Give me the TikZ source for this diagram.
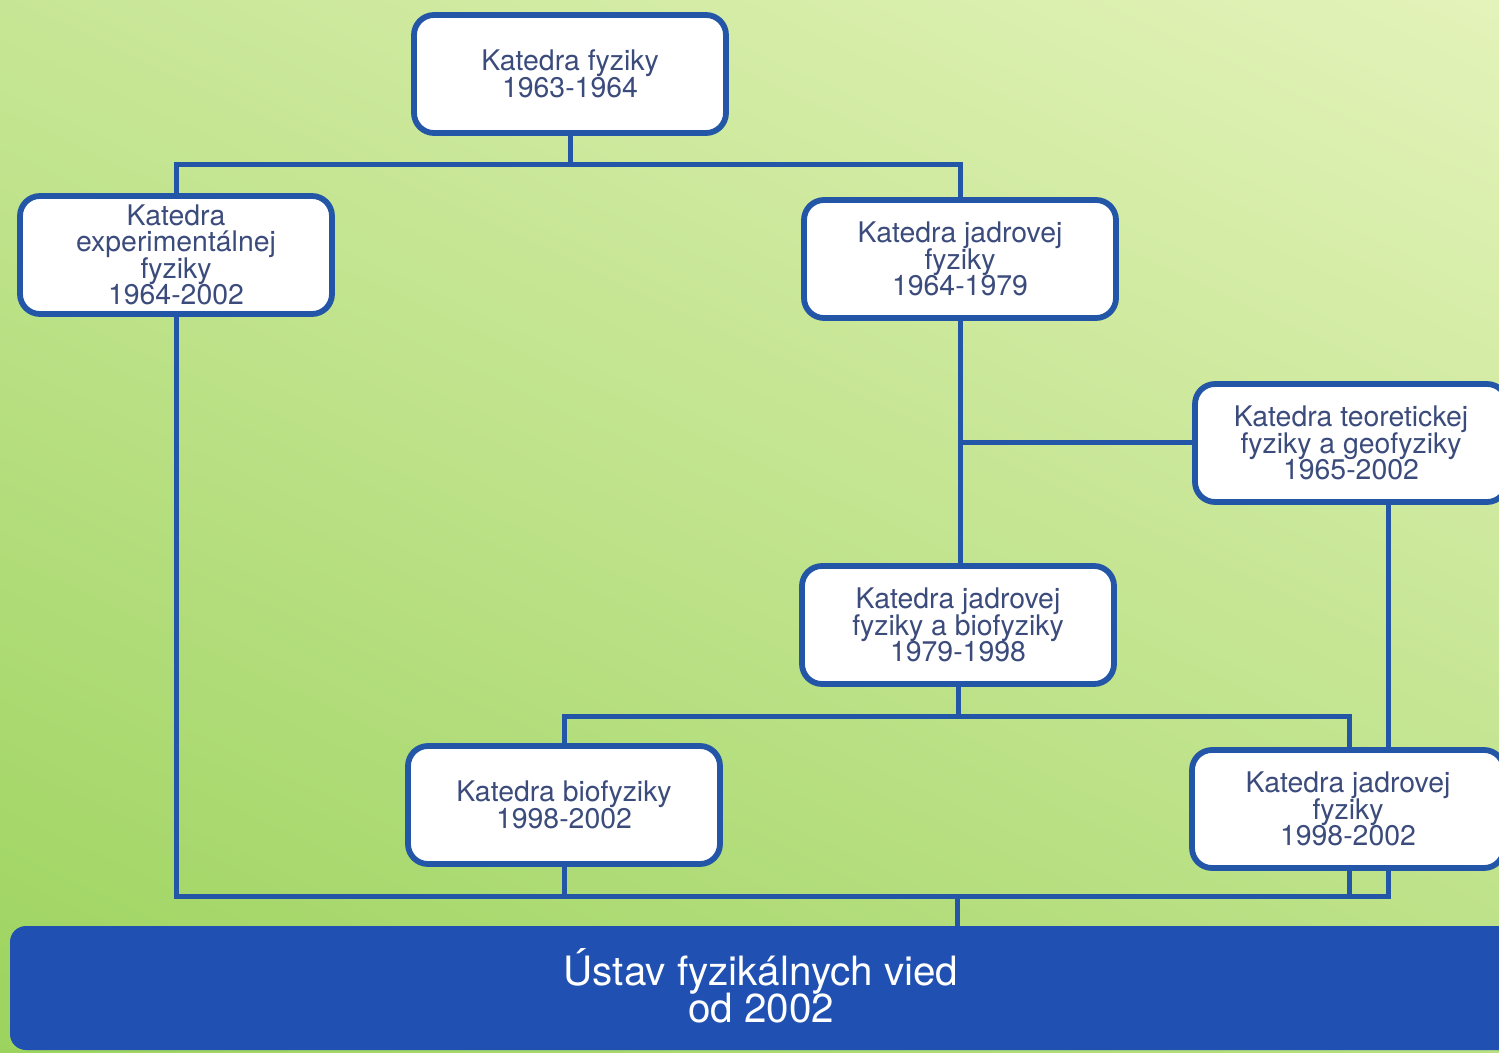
\documentclass[tikz,border=0pt]{standalone}
\usepackage{fontspec}
\setmainfont{TeX Gyre Heros}
\usetikzlibrary{positioning}
\definecolor{bgtop}{HTML}{E4F3BA}
\definecolor{bgmid}{HTML}{B2DC6C}
\definecolor{bgbot}{HTML}{9CD35E}
\definecolor{lineblue}{HTML}{2356A6}
\definecolor{txtblue}{HTML}{3B4B7C}
\definecolor{barblue}{HTML}{1F50B2}
\pgfdeclarelayer{back}
\pgfdeclarelayer{lines}
\pgfsetlayers{back,lines,main}
\newcommand\boxfont{\fontsize{14.2}{13.2}\selectfont\lineskiplimit=-50pt\lineskip=0pt}
\newcommand\barfont{\fontsize{20.2}{18.6}\selectfont\lineskiplimit=-50pt\lineskip=0pt}
\tikzset{
  box/.style={draw=lineblue, line width=2.9pt, fill=white, rounded corners=10pt,
    minimum width=156pt, minimum height=59pt, align=center, inner sep=0pt,
    text=txtblue, font=\boxfont},
  conn/.style={draw=lineblue, line width=2.5pt},
  barbox/.style={fill=barblue, rounded corners=8pt, minimum width=755pt,
    minimum height=62pt, inner sep=0pt},
  bartxt/.style={text=white, align=center, inner sep=0pt, font=\barfont}
}
\begin{document}
\begin{tikzpicture}[x=0.5pt,y=-0.5pt]
\useasboundingbox (0,0) rectangle (1499,1053);
\clip (0,0) rectangle (1499,1053);
\begin{pgfonlayer}{back}
\shade[top color=bgtop, middle color=bgmid, bottom color=bgbot, shading angle=-25]
  (-200,-200) rectangle (1700,1250);
\end{pgfonlayer}

\node[box] (top)  at (570,74)   {Katedra fyziky\\1963-1964};
\node[box] (exp)  at (176,255)  {Katedra\\experimentálnej\\fyziky\\1964-2002};
\node[box] (jad1) at (960,259)  {Katedra jadrovej\\fyziky\\1964-1979};
\node[box] (teo)  at (1351,443) {Katedra teoretickej\\fyziky a geofyziky\\1965-2002};
\node[box] (jab)  at (958,625)  {Katedra jadrovej\\fyziky a biofyziky\\1979-1998};
\node[box] (bio)  at (564,805)  {Katedra biofyziky\\1998-2002};
\node[box] (jad2) at (1348,809) {Katedra jadrovej\\fyziky\\1998-2002};
\node[barbox] (bar) at (765,988) {};
\node[bartxt] (bartext) at (761,986) {Ústav fyzikálnych vied\\od 2002};

\coordinate (t1) at (570,165);
\coordinate (t3) at (958,716);
\coordinate (b1) at (957,896);
\coordinate (b2) at (1388,896);
\coordinate (b3) at (1349,896);
\coordinate (s1) at (1349,716);

\begin{pgfonlayer}{lines}
\draw[conn] (top.south) -- (t1);
\draw[conn] (exp.north) |- (t1) -| (jad1.north);
\draw[conn] (jad1.south) -- (jad1.south |- jab.north);
\draw[conn] (teo.west) -- (teo.west -| jad1.south);
\draw[conn] (jab.south) -- (t3);
\draw[conn] (bio.north) |- (t3) -| (s1) -- (jad2.north -| s1);
\draw[conn] (exp.south) |- (b2) -- (teo.south -| b2);
\draw[conn] (bio.south) -- (bio.south |- b1);
\draw[conn] (jad2.south -| b3) -- (b3);
\draw[conn] (b1) -- (bar.north -| b1);
\end{pgfonlayer}
\end{tikzpicture}
\end{document}
